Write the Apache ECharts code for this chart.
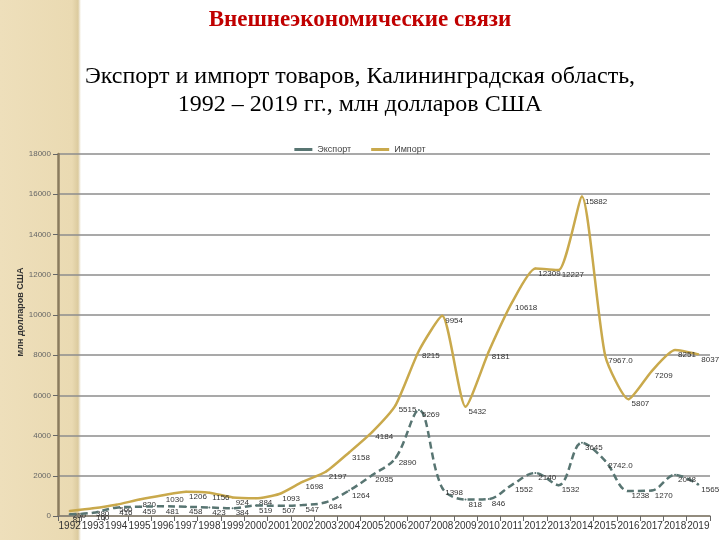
<!DOCTYPE html>
<html>
<head>
<meta charset="utf-8">
<script src="https://cdn.jsdelivr.net/npm/echarts@6/dist/echarts.min.js"></script>
<style>
html,body{margin:0;padding:0;}
#wrap{position:relative;width:720px;height:540px;background:linear-gradient(to right,#EEDFBB 0px,#EADAB2 72px,#DCCB9F 78px,#F3EEE2 80px,#ffffff 81px);}
#chart{position:absolute;left:0;top:0;width:720px;height:540px;}
</style>
</head>
<body>
<div id="wrap"><div id="chart"></div></div>
<script>
const years = ['1992','1993','1994','1995','1996','1997','1998','1999','2000','2001','2002','2003','2004','2005','2006','2007','2008','2009','2010','2011','2012','2013','2014','2015','2016','2017','2018','2019'];
const exportVals = [81, 160, 416, 459, 481, 458, 423, 384, 519, 507, 547, 684, 1264, 2035, 2890, 5269, 1398, 818, 846, 1552, 2140, 1532, 3645, 2742.0, 1238, 1270, 2048, 1565];
const importVals = [250, 380, 560, 820, 1030, 1206, 1156, 924, 884, 1093, 1698, 2197, 3158, 4184, 5515, 8215, 9954, 5432, 8181, 10618, 12309, 12227, 15882, 7967.0, 5807, 7209, 8251, 8037];
const oneDecimal = [2742, 7967];
const yTicks = {min: 0, max: 18000, interval: 2000};
const yName = 'млн долларов США';

const chart = echarts.init(document.getElementById('chart'));
const labelStyle = {show: true, position: 'right', distance: 2, offset: [0, 5], fontSize: 8, color: '#333', fontFamily: 'Liberation Sans, Arial, sans-serif',
  formatter: p => (oneDecimal.indexOf(p.value) >= 0 ? p.value.toFixed(1) : String(p.value))};
const serif = 'Liberation Serif, Times New Roman, serif';
chart.setOption({
  animation: false,
  title: [
    {text: 'Внешнеэкономические связи', left: 'center', top: 4,
     textStyle: {fontFamily: serif, fontSize: 23, fontWeight: 'bold', color: '#C00000'}},
    {text: 'Экспорт и импорт товаров, Калининградская область,', left: 'center', top: 60,
     textStyle: {fontFamily: serif, fontSize: 24, fontWeight: 'normal', color: '#000'}},
    {text: '1992 – 2019 гг., млн долларов США', left: 'center', top: 88,
     textStyle: {fontFamily: serif, fontSize: 24, fontWeight: 'normal', color: '#000'}}
  ],
  graphic: [{type: 'text', x: 21, y: 312, rotation: Math.PI / 2,
    style: {text: yName, fontSize: 9, fontWeight: 'bold', fill: '#333', fontFamily: 'Liberation Sans, Arial, sans-serif', align: 'center', verticalAlign: 'middle'}}],
  legend: {top: 140, left: 'center', itemWidth: 18, itemHeight: 3, itemGap: 20,
    textStyle: {fontSize: 9, color: '#444', fontFamily: 'Liberation Sans, Arial, sans-serif'},
    data: [{name: 'Экспорт', icon: 'rect'}, {name: 'Импорт', icon: 'rect'}]},
  grid: {left: 58, right: 10, top: 154, bottom: 24},
  xAxis: {type: 'category', data: years, boundaryGap: true,
    axisLine: {lineStyle: {color: '#8a8170', width: 1.5}},
    axisTick: {show: true, alignWithLabel: false, length: 5, lineStyle: {color: '#666'}},
    axisLabel: {fontSize: 10, color: '#333', margin: 5, interval: 0, fontFamily: 'Liberation Sans, Arial, sans-serif'}},
  yAxis: {type: 'value', min: yTicks.min, max: yTicks.max, interval: yTicks.interval,
    axisLine: {show: true, lineStyle: {color: '#8a7b5e', width: 2.5}},
    axisTick: {show: true, length: 5, lineStyle: {color: '#666'}},
    axisLabel: {fontSize: 8, color: '#666', margin: 7, fontFamily: 'Liberation Sans, Arial, sans-serif', formatter: v => String(v)},
    splitLine: {lineStyle: {color: '#8c8c8c', width: 1.5}}},
  series: [
    {name: 'Экспорт', type: 'line', data: exportVals, smooth: 0.35, symbol: 'circle', symbolSize: 2, showSymbol: true,
     lineStyle: {color: '#587572', width: 2.5, type: [7, 4]}, itemStyle: {color: '#587572'},
     label: labelStyle, z: 3},
    {name: 'Импорт', type: 'line', data: importVals, smooth: 0.2, symbol: 'circle', symbolSize: 2, showSymbol: true,
     lineStyle: {color: '#C9A94C', width: 2.5}, itemStyle: {color: '#C9A94C'},
     label: labelStyle, z: 2}
  ]
});
</script>
</body>
</html>
